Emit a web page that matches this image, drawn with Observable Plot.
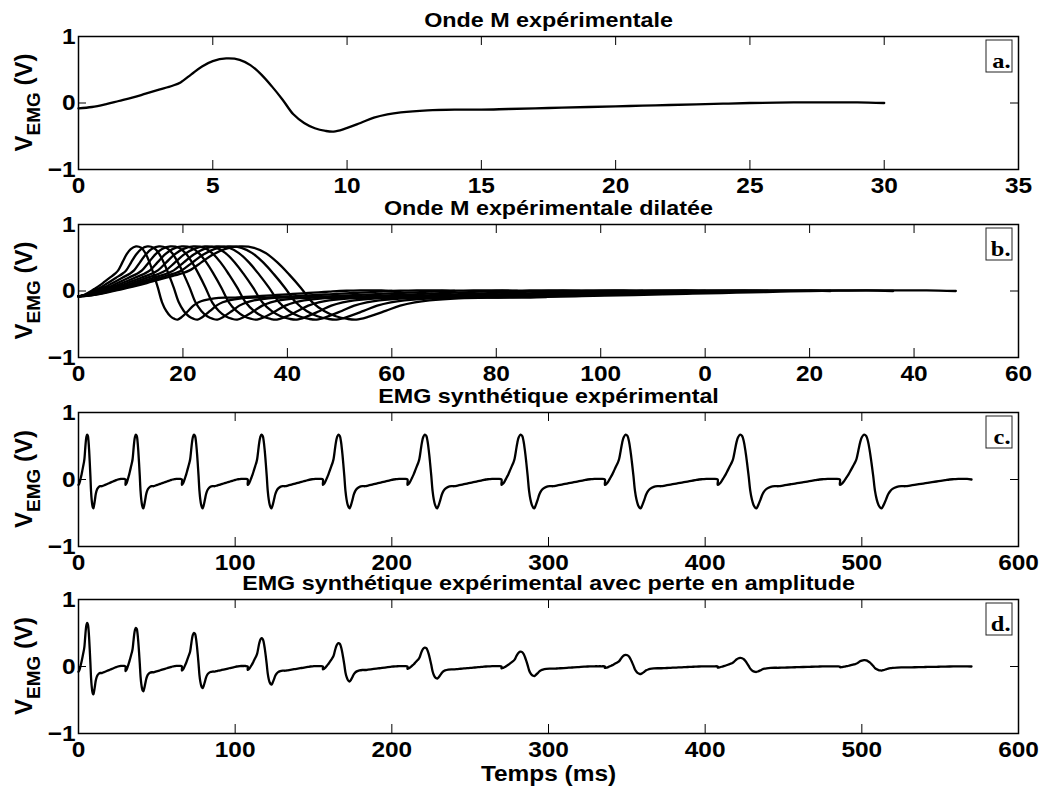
<!DOCTYPE html>
<html><head><meta charset="utf-8">
<script src="https://cdn.jsdelivr.net/npm/d3@7"></script>
<script src="https://cdn.jsdelivr.net/npm/@observablehq/plot@0.6"></script>
<style>
body{margin:0;background:#fff;}
#root{position:relative;width:1044px;height:789px;overflow:hidden;background:#fff;}
#root svg{position:absolute;left:0;}
</style></head><body><div id="root"></div>
<script>
// Experimental M-wave (time in ms, amplitude in V)
const baseT = [0,0.5,1,1.5,2,2.5,3,3.5,3.8,4.2,4.6,5,5.5,6,6.4,6.8,7.2,7.6,8,8.4,8.8,9.2,9.5,9.9,10.5,11,11.5,12,13,14,15,16,17,18,19,20,21,22,23,24,25,26,27,28,29,30];
const baseV = [-0.08,-0.06,-0.02,0.03,0.08,0.14,0.2,0.26,0.31,0.43,0.55,0.63,0.67,0.65,0.57,0.43,0.25,0.05,-0.17,-0.3,-0.38,-0.42,-0.43,-0.39,-0.3,-0.22,-0.17,-0.14,-0.11,-0.1,-0.1,-0.09,-0.08,-0.07,-0.06,-0.05,-0.04,-0.03,-0.02,-0.01,0,0.005,0.01,0.01,0.01,0.0];
// dilation factors of the successive M-waves
const dilations = [1.0,1.2,1.4,1.6,1.8,2.0,2.2,2.4,2.6,2.8];
// onset times (ms) of each M-wave in the synthetic EMG
const onsets = [0,30,66,108,156,210,270,336,408,486];
// amplitude loss factors (panel d)
const amplitudes = [0.97,0.86,0.75,0.63,0.52,0.42,0.33,0.26,0.19,0.14];

const titles = ["Onde M expérimentale","Onde M expérimentale dilatée","EMG synthétique expérimental","EMG synthétique expérimental avec perte en amplitude"];
const letters = ["a.","b.","c.","d."];
const ticksA = [0,5,10,15,20,25,30,35];
const ticksB = [0,10,20,30,40,50,60,70,80,90];
const tickLabelsB = ["0","20","40","60","80","100","0","20","40","60"];
const ticksCD = [0,100,200,300,400,500,600];
const yTicks = [-1,0,1];
const yTickLabels = ["\u22121","0","1"];
const xLabel = "Temps (ms)";

const dataA = baseT.map((t,i)=>({x:t,y:baseV[i]}));
const dataB = dilations.flatMap((f,k)=>baseT.map((t,i)=>({k,x:t*f,y:baseV[i]})));
const dataC = dilations.flatMap((f,k)=>baseT.map((t,i)=>({x:onsets[k]+t*f,y:baseV[i]})));
const dataD = dilations.flatMap((f,k)=>baseT.map((t,i)=>({x:onsets[k]+t*f,y:baseV[i]*amplitudes[k]})));
const fmtB = new Map(ticksB.map((t,i)=>[t,tickLabelsB[i]]));
const fmtY = new Map(yTicks.map((t,i)=>[t,yTickLabels[i]]));

const root = document.getElementById("root");
const FONT = "'Liberation Sans', Arial, Helvetica, sans-serif";
const STRETCH = 1.11;

function panel({data, z, xDomain, xTicks, xFormat, title, letter, frameTop, frameH, xlabel}) {
  const H = 270, mt = 60, ml = 78, mr = 26, W = 1044;
  const pw = W - ml - mr;
  const marks = [
    Plot.tickX(xTicks,{x:d=>d, insetTop:frameH-9, stroke:"black", strokeWidth:1}),
    Plot.tickX(xTicks,{x:d=>d, insetBottom:frameH-9, stroke:"black", strokeWidth:1}),
    Plot.tickY(yTicks,{y:d=>d, insetRight:pw-8, stroke:"black", strokeWidth:1}),
    Plot.tickY(yTicks,{y:d=>d, insetLeft:pw-8, stroke:"black", strokeWidth:1}),
    Plot.line(data,{x:"x", y:"y", z, curve:"catmull-rom", stroke:"black", strokeWidth:2.3}),
    Plot.frame({stroke:"black", strokeWidth:1.5}),
    Plot.axisX({ticks:xTicks, tickSize:0, tickPadding:8, tickFormat:xFormat, label:null}),
    Plot.axisY({ticks:yTicks, tickSize:0, tickPadding:3, tickFormat:d=>fmtY.get(d), label:null}),
    Plot.text([title],{text:d=>d, frameAnchor:"top", dy:-16, lineAnchor:"middle", fontSize:21, fontWeight:"bold"}),
    Plot.text([letter],{text:d=>d, frameAnchor:"top-right", dx:-8, dy:24, lineAnchor:"middle", textAnchor:"end", fontSize:22, fontWeight:"bold", fontFamily:"'Liberation Serif', 'Times New Roman', serif"})
  ];
  if (xlabel) marks.push(Plot.text([xlabel],{text:d=>d, frameAnchor:"bottom", dy:40, lineAnchor:"middle", fontSize:22, fontWeight:"bold"}));
  const svg = Plot.plot({
    width:W, height:H, marginTop:mt, marginBottom:H-mt-frameH, marginLeft:ml, marginRight:mr,
    style:{background:"transparent", fontFamily:FONT, fontSize:"22px", fontWeight:"bold", color:"black", overflow:"visible"},
    x:{domain:xDomain}, y:{domain:[-1,1]},
    marks
  });
  svg.style.top = (frameTop - mt) + "px";
  root.appendChild(svg);
  const s = d3.select(svg);
  // stretch horizontal texts slightly to match the reference's wide lettering
  s.selectAll("text").each(function(){
    const w = this.getComputedTextLength();
    if (w > 0) { this.setAttribute("textLength", w*STRETCH); this.setAttribute("lengthAdjust","spacingAndGlyphs"); }
  });
  // box around the panel letter
  s.append("rect").attr("x", W-mr-6-26).attr("y", mt+4).attr("width",26).attr("height",32)
    .attr("fill","none").attr("stroke","#222").attr("stroke-width",1);
  // y label with subscript
  const yl = s.append("text")
    .attr("transform", `translate(32,${mt+frameH/2}) rotate(-90)`)
    .attr("text-anchor","middle").attr("font-family",FONT).attr("font-weight","bold").attr("font-size",24).attr("fill","black");
  yl.append("tspan").text("V");
  yl.append("tspan").attr("font-size",19).attr("dy",8).text("EMG");
  yl.append("tspan").attr("dy",-8).text(" (V)");
}

panel({data:dataA, xDomain:[0,35], xTicks:ticksA, xFormat:d=>String(d), title:titles[0], letter:letters[0], frameTop:36, frameH:133});
panel({data:dataB, z:"k", xDomain:[0,90], xTicks:ticksB, xFormat:d=>fmtB.get(d), title:titles[1], letter:letters[1], frameTop:224, frameH:133});
panel({data:dataC, xDomain:[0,600], xTicks:ticksCD, xFormat:d=>String(d), title:titles[2], letter:letters[2], frameTop:412, frameH:134});
panel({data:dataD, xDomain:[0,600], xTicks:ticksCD, xFormat:d=>String(d), title:titles[3], letter:letters[3], frameTop:599, frameH:134, xlabel:xLabel});
</script>
</body></html>
